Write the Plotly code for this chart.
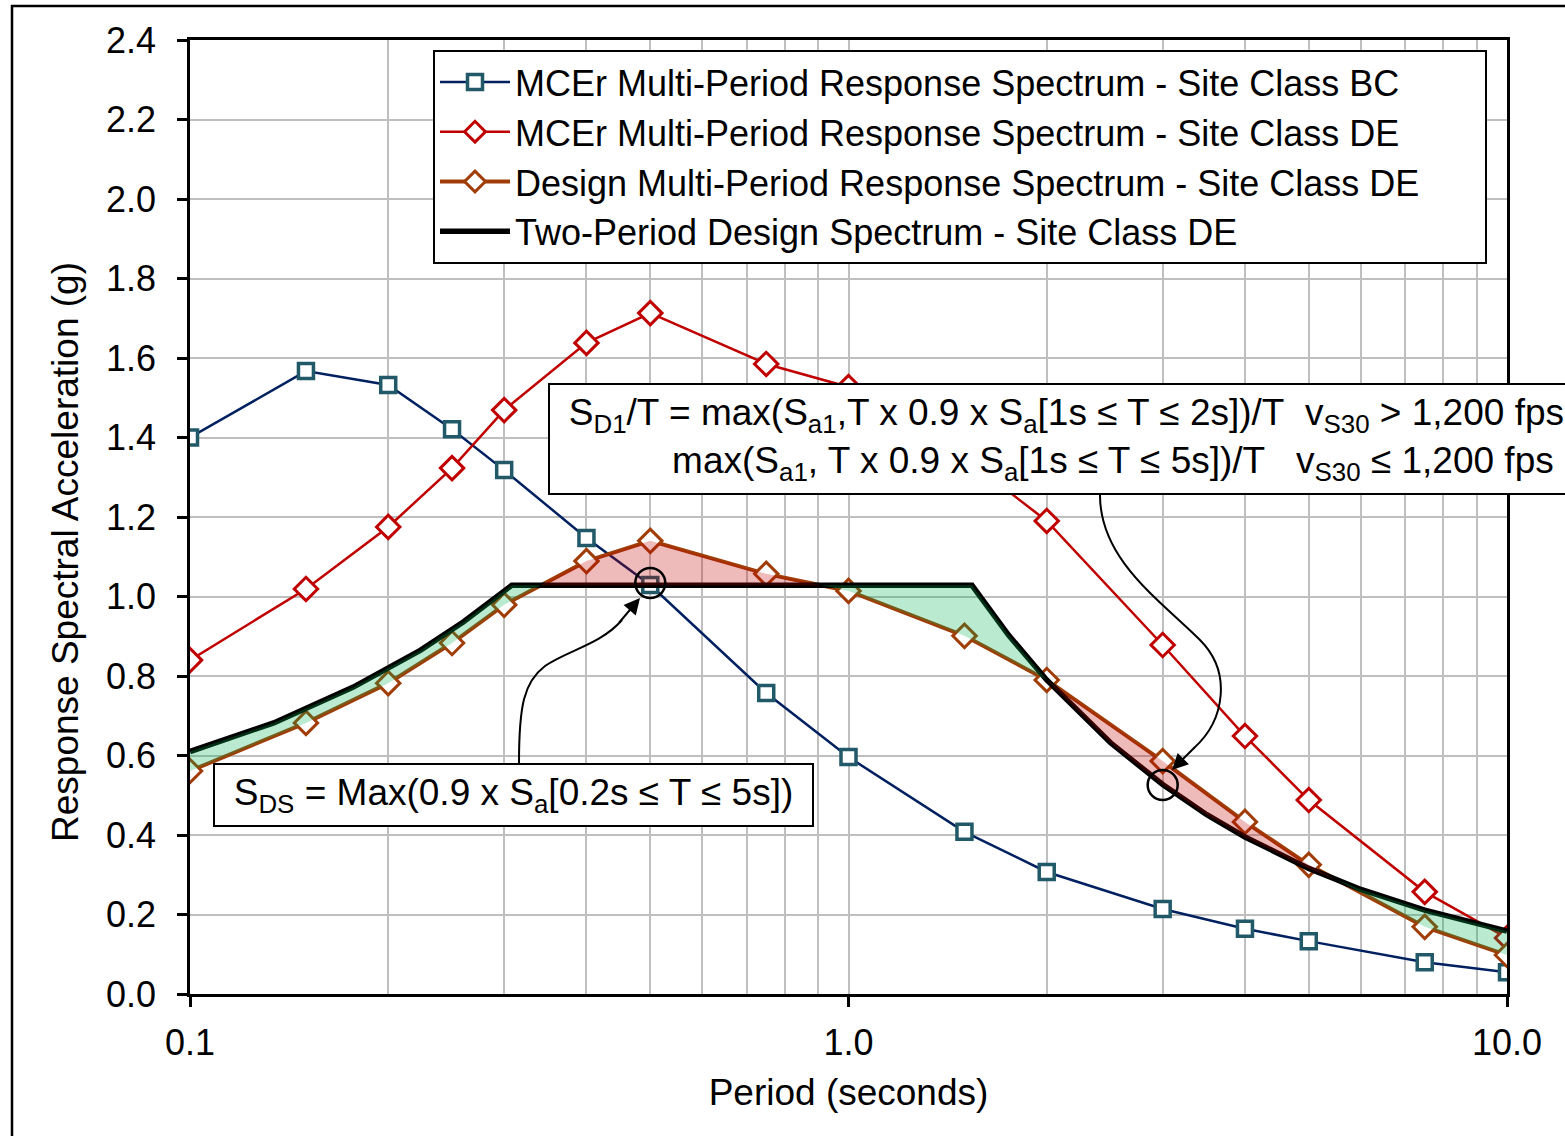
import numpy as np
import plotly.graph_objects as go

# ---------------- data ----------------
periods = [0.1, 0.15, 0.2, 0.25, 0.3, 0.4, 0.5, 0.75, 1.0, 1.5, 2.0, 3.0, 4.0, 5.0, 7.5, 10.0]
mcer_bc = [1.400, 1.567, 1.532, 1.421, 1.318, 1.147, 1.029, 0.757, 0.596, 0.408, 0.307, 0.214, 0.164, 0.133, 0.080, 0.055]
mcer_de = [0.840, 1.019, 1.175, 1.323, 1.469, 1.638, 1.713, 1.585, 1.527, 1.350, 1.190, 0.878, 0.649, 0.488, 0.257, 0.141]
design_de = [0.561, 0.682, 0.782, 0.883, 0.979, 1.089, 1.140, 1.057, 1.014, 0.901, 0.790, 0.586, 0.433, 0.325, 0.169, 0.098]

tp_periods = [0.1, 0.134, 0.177, 0.224, 0.26, 0.308, 1.54, 1.75, 2.0, 2.5, 3.0, 3.5, 4.0, 5.0, 6.0, 7.5, 10.0]
tp_values = [0.610, 0.682, 0.772, 0.865, 0.936, 1.028, 1.028, 0.903, 0.790, 0.632, 0.527, 0.451, 0.395, 0.316, 0.263, 0.211, 0.158]

circle_T = [0.5, 3.0]
circle_Sa = [1.034, 0.526]

x_tickvals = [0.1, 1.0, 10.0]
x_ticktext = ["0.1", "1.0", "10.0"]
x_minor = [0.2, 0.3, 0.4, 0.5, 0.6, 0.7, 0.8, 0.9, 2, 3, 4, 5, 6, 7, 8, 9]

names = [
    "MCEr Multi-Period Response Spectrum - Site Class BC",
    "MCEr Multi-Period Response Spectrum - Site Class DE",
    "Design Multi-Period Response Spectrum - Site Class DE",
    "Two-Period Design Spectrum - Site Class DE",
]

FONT = "Liberation Sans, Arial, sans-serif"
NAVY = "#002060"
TEAL = "#215968"
RED = "#C00000"
BROWN = "#A03C05"
GREEN_FILL = "rgba(0,176,80,0.27)"
PINK_FILL = "rgba(192,0,0,0.27)"
NB = "\u00a0"

# plot area in pixels
W, H = 1565, 1136
L, R, T, B = 190, 58, 40, 142
PW, PH = W - L - R, H - T - B


def px(X):
    return (X - L) / PW


def py(Y):
    return (H - B - Y) / PH


fig = go.Figure()

fig.add_trace(go.Scatter(
    x=periods, y=mcer_bc, name=names[0], mode="lines+markers",
    line=dict(color=NAVY, width=2.5),
    marker=dict(symbol="square", size=15, color="white", line=dict(color=TEAL, width=3.5)),
))
fig.add_trace(go.Scatter(
    x=periods, y=mcer_de, name=names[1], mode="lines+markers",
    line=dict(color=RED, width=2.5),
    marker=dict(symbol="diamond", size=18, color="white", line=dict(color=RED, width=3)),
))
fig.add_trace(go.Scatter(
    x=periods, y=design_de, name=names[2] + NB * 6, mode="lines+markers",
    line=dict(color=BROWN, width=4),
    marker=dict(symbol="diamond", size=18, color="white", line=dict(color=BROWN, width=3)),
))
fig.add_trace(go.Scatter(
    x=tp_periods, y=tp_values, name=names[3], mode="lines",
    line=dict(color="black", width=5.5),
))

# ----- fills between the design multi-period and two-period spectra -----
lx_d = np.log10(periods)
lx_t = np.log10(tp_periods)
grid = np.array(sorted(set(np.round(lx_d, 9)) | set(np.round(lx_t, 9))))
dv = np.interp(grid, lx_d, design_de)
tv = np.interp(grid, lx_t, tp_values)
pts = []  # (lx, design, tp)
for i in range(len(grid)):
    if i > 0:
        d0 = tv[i - 1] - dv[i - 1]
        d1 = tv[i] - dv[i]
        if d0 * d1 < 0:
            f = d0 / (d0 - d1)
            lxc = grid[i - 1] + f * (grid[i] - grid[i - 1])
            yc = dv[i - 1] + f * (dv[i] - dv[i - 1])
            pts.append((lxc, yc, yc))
    pts.append((grid[i], dv[i], tv[i]))

segments = []
cur = [pts[0]]
cur_sign = 0
for p in pts[1:]:
    s = np.sign(round(p[2] - p[1], 9))
    cur.append(p)
    if s == 0 and cur_sign != 0:
        segments.append((cur_sign, cur))
        cur = [p]
        cur_sign = 0
    elif s != 0:
        cur_sign = s
if len(cur) > 1 and cur_sign != 0:
    segments.append((cur_sign, cur))

for sign, seg in segments:
    xs = [10 ** p[0] for p in seg]
    up = [p[2] for p in seg]
    lo = [p[1] for p in seg]
    fig.add_trace(go.Scatter(
        x=xs + xs[::-1], y=up + lo[::-1], mode="lines", fill="toself",
        fillcolor=GREEN_FILL if sign > 0 else PINK_FILL,
        line=dict(width=0, color="rgba(0,0,0,0)"),
        showlegend=False, hoverinfo="skip",
    ))

fig.add_trace(go.Scatter(
    x=circle_T, y=circle_Sa, mode="markers", showlegend=False, hoverinfo="skip",
    marker=dict(symbol="circle-open", size=30, color="black", line=dict(color="black", width=2.5)),
))

# ---------------- axes ----------------
fig.update_xaxes(
    type="log", range=[-1, 1],
    tickvals=x_tickvals, ticktext=x_ticktext,
    ticks="outside", ticklen=10, tickwidth=2.5, tickcolor="black",
    showline=True, linecolor="black", linewidth=2.5, mirror=True,
    showgrid=True, gridcolor="#BFBFBF", gridwidth=2,
    minor=dict(tickvals=x_minor, showgrid=True, gridcolor="#BFBFBF", gridwidth=2, ticks=""),
    tickfont=dict(size=36, color="black", family=FONT),
    ticklabelstandoff=5,
    title=dict(text="Period (seconds)", font=dict(size=37, color="black", family=FONT), standoff=18),
    zeroline=False,
)
fig.update_yaxes(
    range=[0, 2.4], dtick=0.2, tickformat=".1f",
    ticks="outside", ticklen=10, tickwidth=2.5, tickcolor="black",
    showline=True, linecolor="black", linewidth=2.5, mirror=True,
    showgrid=True, gridcolor="#BFBFBF", gridwidth=2,
    tickfont=dict(size=36, color="black", family=FONT),
    ticklabelstandoff=14,
    zeroline=False,
)

# y-axis title (placed as in the reference, slightly below the plot centre)
fig.add_annotation(
    xref="paper", yref="paper", x=px(65), y=py(552), xanchor="center", yanchor="middle",
    text="Response Spectral Acceleration (g)", textangle=-90, showarrow=False,
    font=dict(size=37, color="black", family=FONT),
)

# ---------------- annotations ----------------
fig.add_annotation(
    xref="paper", yref="paper", x=px(213), y=py(763), xanchor="left", yanchor="top",
    text="S<sub>DS</sub> = Max(0.9 x S<sub>a</sub>[0.2s ≤ T ≤ 5s])",
    showarrow=False, font=dict(size=37, color="black", family=FONT),
    bgcolor="white", bordercolor="black", borderwidth=2, borderpad=4,
    width=589, height=52, align="center",
)
fig.add_annotation(
    xref="paper", yref="paper", x=px(548), y=py(383), xanchor="left", yanchor="top",
    text=("S<sub>D1</sub>/T = max(S<sub>a1</sub>,T x 0.9 x S<sub>a</sub>[1s ≤ T ≤ 2s])/T" + NB * 2
          + "v<sub>S30</sub> > 1,200 fps"
          + "<br>max(S<sub>a1</sub>, T x 0.9 x S<sub>a</sub>[1s ≤ T ≤ 5s])/T" + NB * 3
          + "v<sub>S30</sub> ≤ 1,200 fps" + NB),
    showarrow=False, font=dict(size=37, color="black", family=FONT),
    bgcolor="white", bordercolor="black", borderwidth=2, borderpad=4,
    width=1010, height=100, align="right",
)


def path(pts_px):
    s = "M{:.5f},{:.5f}".format(px(pts_px[0][0]), py(pts_px[0][1]))
    rest = pts_px[1:]
    for k in range(0, len(rest), 3):
        a, b, c = rest[k:k + 3]
        s += " C{:.5f},{:.5f} {:.5f},{:.5f} {:.5f},{:.5f}".format(
            px(a[0]), py(a[1]), px(b[0]), py(b[1]), px(c[0]), py(c[1]))
    return s


fig.add_shape(type="path", xref="paper", yref="paper", layer="above",
              path=path([(519, 763), (519, 705), (524, 682), (545, 666),
                         (568, 650), (600, 645), (622, 620)]),
              line=dict(color="black", width=2))
fig.add_annotation(xref="paper", yref="paper", x=px(640), y=py(598), text="",
                   showarrow=True, ax=-22, ay=26, arrowhead=2, arrowsize=1.6,
                   arrowwidth=2, arrowcolor="black")

fig.add_shape(type="path", xref="paper", yref="paper", layer="above",
              path=path([(1100, 495), (1100, 560), (1160, 600), (1200, 640),
                         (1232, 672), (1225, 720), (1194, 748)]),
              line=dict(color="black", width=2))
fig.add_annotation(xref="paper", yref="paper", x=px(1172), y=py(770), text="",
                   showarrow=True, ax=24, ay=-24, arrowhead=2, arrowsize=1.6,
                   arrowwidth=2, arrowcolor="black")

# outer frame
fig.add_shape(type="rect", xref="paper", yref="paper", layer="above",
              x0=px(12), x1=px(1700), y0=py(1300), y1=py(6),
              line=dict(color="black", width=2.5), fillcolor="rgba(0,0,0,0)")

fig.update_layout(
    width=W, height=H,
    margin=dict(l=L, r=R, t=T, b=B),
    paper_bgcolor="white", plot_bgcolor="white",
    font=dict(family=FONT, color="black"),
    showlegend=True,
    legend=dict(
        x=px(433), y=py(50), xanchor="left", yanchor="top",
        bgcolor="white", bordercolor="black", borderwidth=2,
        font=dict(size=36, color="black", family=FONT),
        itemwidth=70, tracegroupgap=0,
    ),
)

fig.write_html("out.html", config={"displayModeBar": False},
               post_script="document.body.style.margin='0';")
